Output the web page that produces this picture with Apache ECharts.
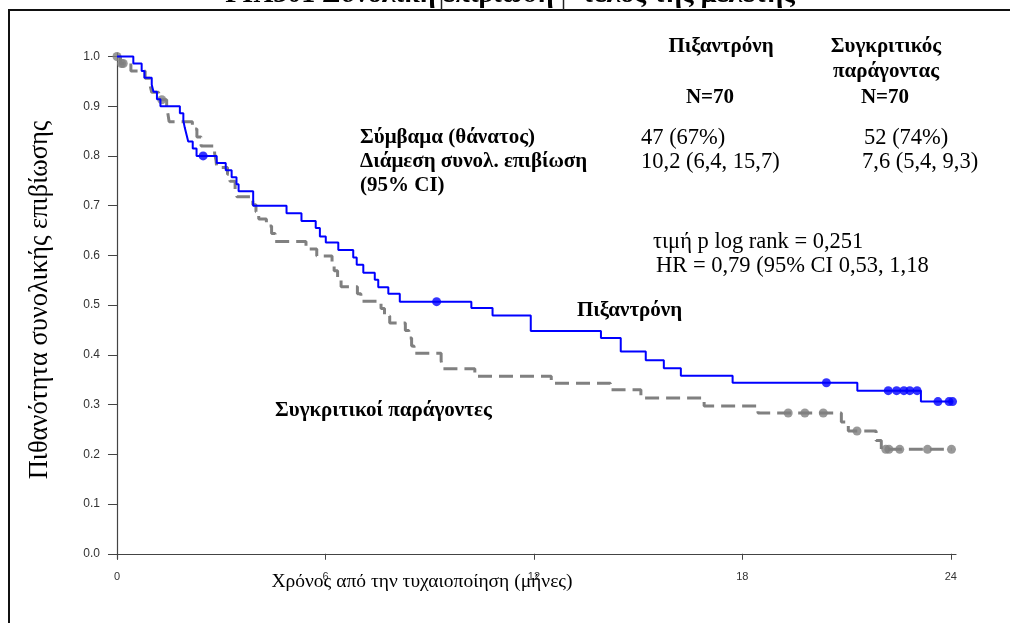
<!DOCTYPE html>
<html>
<head>
<meta charset="utf-8">
<script src="https://cdn.jsdelivr.net/npm/echarts@6/dist/echarts.min.js"></script>
<style>
html,body{margin:0;padding:0;background:#fff;}
#chart{width:1010px;height:623px;}
</style>
</head>
<body>
<div id="chart"></div>
<script>
// ---- Data ----
const xTicks = [0, 6, 12, 18, 24];
const yTicks = [0, 0.1, 0.2, 0.3, 0.4, 0.5, 0.6, 0.7, 0.8, 0.9, 1.0];

// Pixantrone: [time (months), survival after event]
const pixSteps = [
  [0,1],[0.47,0.986],[0.71,0.971],[0.79,0.957],[1.0,0.943],[1.05,0.929],[1.15,0.914],[1.25,0.90],
  [1.81,0.886],[1.91,0.871],[1.95,0.857],[2.0,0.843],[2.05,0.829],[2.18,0.815],[2.29,0.80],
  [2.87,0.786],[3.13,0.771],[3.3,0.757],[3.44,0.743],[3.5,0.729],[3.92,0.70],
  [4.88,0.685],[5.31,0.669],[5.72,0.655],[5.84,0.638],[6.01,0.626],[6.37,0.611],[6.8,0.596],
  [6.9,0.581],[7.09,0.565],[7.42,0.551],[7.52,0.536],[7.81,0.523],[8.14,0.507],
  [10.2,0.494],[10.81,0.479],[11.91,0.448],[13.93,0.434],[14.5,0.407],[15.22,0.389],
  [15.74,0.373],[16.23,0.358],[17.72,0.344],[21.31,0.328],[23.14,0.306],[24.05,0.306]
];
const pixCensor = [
  [2.48,0.80],[9.2,0.507],[20.42,0.344],[22.2,0.328],[22.44,0.328],[22.65,0.328],
  [22.82,0.328],[23.03,0.328],[23.63,0.306],[23.95,0.306],[24.05,0.306]
];

// Comparator
const compSteps = [
  [0,1],[0.1,0.986],[0.4,0.971],[0.81,0.956],[0.95,0.942],[1.0,0.928],[1.2,0.913],
  [1.43,0.897],[1.47,0.883],[1.5,0.869],[2.17,0.854],[2.3,0.838],[2.42,0.82],
  [2.81,0.805],[2.85,0.791],[2.87,0.777],[3.18,0.763],[3.25,0.749],[3.4,0.733],[3.45,0.718],
  [3.91,0.702],[4.0,0.688],[4.08,0.673],[4.3,0.659],[4.45,0.644],[4.55,0.628],
  [5.44,0.613],[5.75,0.599],[6.19,0.584],[6.25,0.569],[6.35,0.553],[6.45,0.537],
  [6.92,0.523],[7.02,0.508],[7.6,0.493],[7.7,0.478],[7.85,0.464],
  [8.3,0.449],[8.4,0.434],[8.48,0.418],[8.55,0.403],[9.33,0.388],[9.38,0.372],
  [10.3,0.357],[12.5,0.343],[14.2,0.33],[15.08,0.313],[16.9,0.297],[18.45,0.283],
  [20.85,0.265],[21.05,0.247],[21.85,0.228],[22.0,0.21],[24.02,0.21]
];
const compCensor = [
  [0,1],[0.13,0.986],[0.18,0.986],[1.29,0.913],[19.32,0.283],[19.8,0.283],[20.33,0.283],
  [21.3,0.247],[22.13,0.21],[22.22,0.21],[22.53,0.21],[23.33,0.21],[24.02,0.21]
];

const serif = '"Liberation Serif", "DejaVu Serif", serif';
const sans = '"Liberation Sans", Arial, sans-serif';

function txt(text, x, y, opts) {
  opts = opts || {};
  return {
    type: 'text', x: x, y: y, z: 50, rotation: opts.rotation || 0,
    style: {
      text: text, fill: '#000',
      fontFamily: serif, fontSize: opts.size || (opts.bold ? 21 : 22.5),
      fontWeight: opts.bold ? 'bold' : 'normal',
      align: opts.align || 'left', verticalAlign: opts.valign || 'middle'
    }
  };
}

const chart = echarts.init(document.getElementById('chart'), null, {renderer: 'canvas'});
chart.setOption({
  animation: false,
  backgroundColor: '#fff',
  grid: {left: 113, right: 54, top: 53, bottom: 64, containLabel: false},
  xAxis: {
    type: 'value', min: -0.115, max: 24.15,
    splitLine: {show: false},
    axisLine: {show: true, lineStyle: {color: '#444', width: 1.2}},
    axisTick: {show: true, customValues: xTicks, length: 6, lineStyle: {color: '#444'}},
    axisLabel: {customValues: xTicks, margin: 12, color: '#333', fontSize: 11, fontFamily: sans}
  },
  yAxis: {
    type: 'value', min: -0.0105, max: 1.007,
    splitLine: {show: false},
    axisLine: {show: true, lineStyle: {color: '#444', width: 1.2}},
    axisTick: {show: true, customValues: yTicks, length: 9, lineStyle: {color: '#444'}},
    axisLabel: {customValues: yTicks, margin: 13, color: '#333', fontSize: 12, fontFamily: sans,
      formatter: v => v.toFixed(1)}
  },
  series: [
    {
      name: 'Συγκριτικοί παράγοντες', type: 'line', step: 'end', data: compSteps,
      showSymbol: false, z: 2,
      lineStyle: {color: '#808080', width: 3, type: [14, 7]}
    },
    {
      type: 'scatter', data: compCensor, symbol: 'circle', symbolSize: 9, z: 3,
      itemStyle: {color: '#808080'}
    },
    {
      name: 'Πιξαντρόνη', type: 'line', step: 'end', data: pixSteps,
      showSymbol: false, z: 4,
      lineStyle: {color: '#0000ff', width: 2}
    },
    {
      type: 'scatter', data: pixCensor, symbol: 'circle', symbolSize: 9, z: 5,
      itemStyle: {color: '#0000ff'}
    }
  ],
  graphic: [
    {type: 'rect', z: 1, shape: {x: 9, y: 10, width: 1100, height: 800},
      style: {fill: 'none', stroke: '#111', lineWidth: 2}},
    {type: 'line', z: 1, shape: {x1: 441.5, y1: 0, x2: 441.5, y2: 10}, style: {stroke: '#222', lineWidth: 1.5}},
    {type: 'line', z: 1, shape: {x1: 563.5, y1: 0, x2: 563.5, y2: 10}, style: {stroke: '#222', lineWidth: 1.5}},
    txt('PIX301 Συνολική επιβίωση – τέλος της μελέτης', 510, 9, {bold: true, size: 28, align: 'center', valign: 'bottom'}),
    txt('Πιξαντρόνη', 721, 47, {bold: true, align: 'center'}),
    txt('Συγκριτικός', 886, 47, {bold: true, align: 'center'}),
    txt('παράγοντας', 886, 72, {bold: true, align: 'center'}),
    txt('N=70', 710, 98, {bold: true, align: 'center'}),
    txt('N=70', 885, 98, {bold: true, align: 'center'}),
    txt('Σύμβαμα (θάνατος)', 360, 138, {bold: true}),
    txt('Διάμεση συνολ. επιβίωση', 360, 162, {bold: true}),
    txt('(95% CI)', 360, 186, {bold: true}),
    txt('47 (67%)', 641, 138),
    txt('10,2 (6,4, 15,7)', 641, 162),
    txt('52 (74%)', 864, 138),
    txt('7,6 (5,4, 9,3)', 862, 162),
    txt('τιμή p log rank = 0,251', 653, 242),
    txt('HR = 0,79 (95% CI 0,53, 1,18', 656, 266),
    txt('Πιξαντρόνη', 577, 311, {bold: true}),
    txt('Συγκριτικοί παράγοντες', 275, 411, {bold: true}),
    txt('Χρόνος από την τυχαιοποίηση (μήνες)', 422, 582, {align: 'center', size: 19.5}),
    txt('Πιθανότητα συνολικής επιβίωσης', 40, 300, {align: 'center', size: 26.5, rotation: Math.PI / 2})
  ]
});
</script>
</body>
</html>
